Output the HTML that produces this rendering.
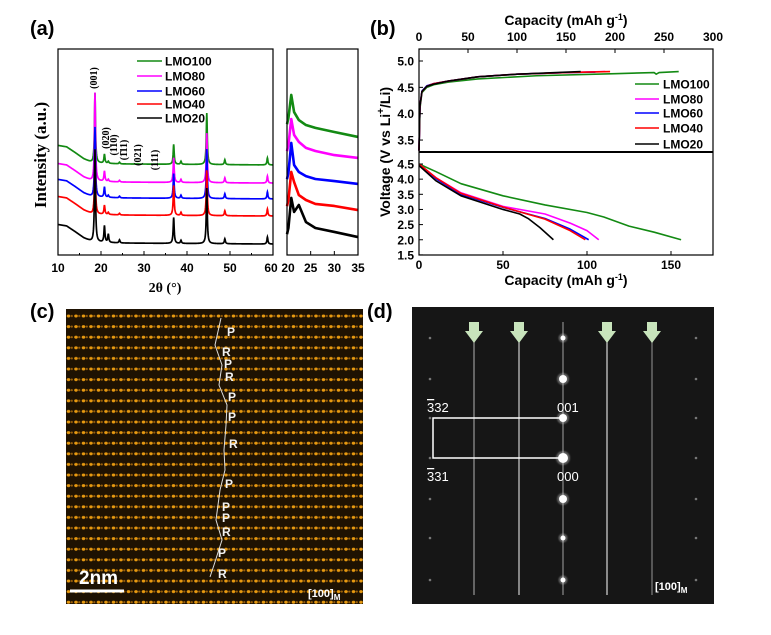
<!DOCTYPE html>
<html><head><meta charset="utf-8">
<style>
body{margin:0;background:#fff;width:771px;height:635px;overflow:hidden;font-family:"Liberation Sans",sans-serif}
svg{position:absolute;left:0;top:0}
</style></head>
<body>
<svg id="fig" width="771" height="635" viewBox="0 0 771 635" xmlns="http://www.w3.org/2000/svg">
<defs>
<pattern id="dots" x="66" y="312" width="7.5" height="10.6" patternUnits="userSpaceOnUse">
<rect width="7.5" height="10.6" fill="#1e1202"/>
<ellipse cx="2.5" cy="4" rx="1.8" ry="1.5" fill="#e89a10"/>
<ellipse cx="5.8" cy="4" rx="1.1" ry="1.1" fill="#9a600a"/>
</pattern>
<filter id="glow"><feGaussianBlur stdDeviation="0.8"/></filter>
</defs>
<g id="root"></g>
</svg>
<script>
// ---------- Panel (a) data ----------
const xrdSeries = ['LMO100','LMO80','LMO60','LMO40','LMO20'];
const xrdColors = ['#138a13','#ff00ff','#0000ff','#ff0000','#000000'];
const xrdOffsets = [44.2, 35.4, 27.7, 19.4, 5.8];
const peakPos = [18.6, 20.8, 21.7, 24.3, 36.9, 38.6, 44.6, 48.8, 58.7];
const peakH_LMO100 = [34, 4.4, 1, 0.8, 9.7, 1.5, 25, 2.4, 3.4];
const peakH_LMO80 = [43, 5, 1, 0.8, 12, 1.5, 24, 2.4, 3.4];
const peakH_LMO60 = [34, 5, 1, 0.8, 12, 1.5, 24, 2.4, 3.4];
const peakH_LMO40 = [29, 4.4, 1, 0.8, 14.5, 1.5, 22, 2.4, 3.4];
const peakH_LMO20 = [45, 8, 4, 1.5, 12.6, 1.5, 27, 2.4, 3.4];
const bgX = [10, 12, 14, 16, 18, 25, 60];
const bgY = [9, 8.3, 5.5, 2.5, 0.5, 0, -0.5];
const insetX = [20.3, 20.9, 21.5, 22.5, 24, 26, 30, 35];
const inset_LMO100 = [66.5, 77.7, 69.4, 65.5, 63.1, 61.7, 59.7, 57.3];
const inset_LMO80 = [53.4, 66, 58.3, 54.9, 52, 50.5, 48.5, 47.1];
const inset_LMO60 = [39.8, 54.4, 43.7, 40.3, 38.3, 36.9, 35.9, 34.5];
const inset_LMO40 = [26.7, 40.3, 35.4, 29.1, 26.7, 24.8, 23.8, 21.8];
const inset_LMO20 = [13.1, 27.7, 20.9, 24.3, 16, 13.1, 11.2, 8.7];
const xrdTicks = [10,20,30,40,50,60];
const insetTicks = [20,25,30,35];

// ---------- Panel (b) data ----------
const chgX_LMO100 = [0, 1, 3, 8, 15, 30, 60, 120, 200, 240, 242, 245, 265];
const chgV_LMO100 = [3.3, 4.1, 4.4, 4.5, 4.55, 4.6, 4.66, 4.72, 4.76, 4.78, 4.75, 4.78, 4.8];
const chgX_LMO80 = [0, 1, 3, 8, 15, 30, 60, 100, 150, 190];
const chgV_LMO80 = [3.3, 4.15, 4.42, 4.52, 4.57, 4.62, 4.7, 4.75, 4.78, 4.8];
const chgX_LMO60 = [0, 1, 3, 8, 15, 30, 60, 100, 150, 180];
const chgV_LMO60 = [3.3, 4.15, 4.43, 4.53, 4.57, 4.62, 4.7, 4.75, 4.78, 4.79];
const chgX_LMO40 = [0, 1, 3, 8, 15, 30, 60, 100, 150, 195];
const chgV_LMO40 = [3.3, 4.15, 4.42, 4.52, 4.57, 4.62, 4.7, 4.75, 4.78, 4.8];
const chgX_LMO20 = [0, 1, 3, 8, 15, 30, 60, 100, 140, 165];
const chgV_LMO20 = [3.3, 4.15, 4.42, 4.52, 4.56, 4.62, 4.7, 4.75, 4.78, 4.8];
const disX_LMO100 = [0, 10, 25, 50, 75, 100, 110, 125, 140, 156];
const disV_LMO100 = [4.5, 4.25, 3.85, 3.45, 3.15, 2.9, 2.75, 2.45, 2.25, 2.0];
const disX_LMO80 = [0, 10, 25, 50, 75, 90, 100, 107];
const disV_LMO80 = [4.5, 4.05, 3.55, 3.1, 2.85, 2.55, 2.3, 2.0];
const disX_LMO60 = [0, 10, 25, 50, 75, 90, 101];
const disV_LMO60 = [4.5, 4.02, 3.5, 3.07, 2.7, 2.35, 2.0];
const disX_LMO40 = [0, 10, 25, 50, 75, 90, 99];
const disV_LMO40 = [4.5, 4.05, 3.53, 3.08, 2.68, 2.3, 2.0];
const disX_LMO20 = [0, 10, 25, 50, 60, 65, 72, 80];
const disV_LMO20 = [4.45, 3.95, 3.45, 3.0, 2.85, 2.7, 2.4, 2.0];
const topTicks = [0,50,100,150,200,250,300];
const botTicks = [0,50,100,150];
const upTicks = [3.5,4.0,4.5,5.0];
const lowTicks = [1.5,2.0,2.5,3.0,3.5,4.0,4.5];

const NS='http://www.w3.org/2000/svg';
const root=document.getElementById('root');
function mk(tag,attrs,parent,txt){const e=document.createElementNS(NS,tag);for(const k in attrs)e.setAttribute(k,attrs[k]);if(txt!==undefined)e.textContent=txt;(parent||root).appendChild(e);return e;}
function interp(xs,ys,x){if(x<=xs[0])return ys[0];for(let i=1;i<xs.length;i++){if(x<=xs[i]){const t=(x-xs[i-1])/(xs[i]-xs[i-1]);return ys[i-1]+t*(ys[i]-ys[i-1]);}}return ys[ys.length-1];}

// panel labels
[['(a)',30,35],['(b)',370,35],['(c)',30,318],['(d)',367,318]].forEach(p=>{
  const t=mk('text',{x:p[1],y:p[2],'font-size':20,'font-weight':'bold','font-family':'Liberation Sans, sans-serif'},root,p[0]);
  
  
});

// ---------- Panel (a) ----------
const aX=v=>58+(v-10)*(273-58)/50;
const aY=v=>255-v*2.06;
const gA=mk('g',{});


const peakSets=[peakH_LMO100,peakH_LMO80,peakH_LMO60,peakH_LMO40,peakH_LMO20];
for(let s=0;s<5;s++){
  let d='';
  for(let x=10;x<=60.001;x+=0.05){
    let v=xrdOffsets[s]+interp(bgX,bgY,x);
    for(let k=0;k<peakPos.length;k++){const w=0.14;const dx=x-peakPos[k];v+=peakSets[s][k]*w*w/(dx*dx+w*w);}
    d+=(d?'L':'M')+aX(x).toFixed(2)+','+aY(v).toFixed(2);
  }
  const p=mk('path',{d:d,fill:'none',stroke:xrdColors[s],'stroke-width':1.7},gA);
  
  
}
mk('rect',{x:58,y:49,width:215,height:206,fill:'none',stroke:'#000','stroke-width':1.2},gA);
xrdTicks.forEach(t=>{
  mk('line',{x1:aX(t),x2:aX(t),y1:255,y2:251,stroke:'#000'},gA);
  const tx=mk('text',{x:aX(t)+(t===60?-2:0),y:272,'text-anchor':'middle','font-size':12,'font-weight':'bold'},gA,t);
  
  
});
for(let t=15;t<60;t+=10)mk('line',{x1:aX(t),x2:aX(t),y1:255,y2:253,stroke:'#000'},gA);
const xl=mk('text',{x:165,y:292,'text-anchor':'middle','font-size':14,'font-weight':'bold','font-family':'Liberation Serif, serif'},gA,'2θ (°)');


const yl=mk('text',{x:0,y:0,transform:'translate(46,155) rotate(-90)','text-anchor':'middle','font-size':17,'font-weight':'bold','font-family':'Liberation Serif, serif'},gA,'Intensity (a.u.)');


[['(001)',97,78],['(020)',109,138],['(110)',117,145],['(1̄11)',127,150],['(021)',141,155],['(111)',158,160]].forEach(h=>{
  const t=mk('text',{x:0,y:0,transform:`translate(${h[1]},${h[2]}) rotate(-90)`,'text-anchor':'middle','font-size':10,'font-weight':'bold','font-family':'Liberation Serif, serif'},gA,h[0]);
  
  
});
const legYa=[61,76,91,104,118];
for(let s=0;s<5;s++){
  const g=mk('g',{},gA);
  
  
  mk('line',{x1:137,x2:162,y1:legYa[s],y2:legYa[s],stroke:xrdColors[s],'stroke-width':1.5},g);
  mk('text',{x:165,y:legYa[s]+4.5,'font-size':12,'font-weight':'bold'},g,xrdSeries[s]);
}
const iX=v=>287+(v-20)*(358-287)/15;
const insetSets=[inset_LMO100,inset_LMO80,inset_LMO60,inset_LMO40,inset_LMO20];
const gI=mk('g',{});


for(let s=0;s<5;s++){
  let d='M'+iX(20).toFixed(2)+','+aY(insetSets[s][0]-3).toFixed(2);
  for(let k=0;k<insetX.length;k++)d+='L'+iX(insetX[k]).toFixed(2)+','+aY(insetSets[s][k]).toFixed(2);
  const p=mk('path',{d:d,fill:'none',stroke:xrdColors[s],'stroke-width':2.6,'stroke-linejoin':'round'},gI);
  
  
}
mk('rect',{x:287,y:49,width:71,height:206,fill:'none',stroke:'#000','stroke-width':1.2},gI);
insetTicks.forEach(t=>{
  mk('line',{x1:iX(t),x2:iX(t),y1:255,y2:251,stroke:'#000'},gI);
  mk('text',{x:iX(t)+(t===20?1:0),y:272,'text-anchor':'middle','font-size':12,'font-weight':'bold'},gI,t);
});

// ---------- Panel (b) ----------
const bTopX=v=>419+v*(713-419)/300;
const bBotX=v=>419+v*(713-419)/175;
const bUpY=v=>61+(5.0-v)*52.7;
const bLowY=v=>164+(4.5-v)*30.3;
const gB=mk('g',{});


const chg=[[chgX_LMO100,chgV_LMO100],[chgX_LMO80,chgV_LMO80],[chgX_LMO60,chgV_LMO60],[chgX_LMO40,chgV_LMO40],[chgX_LMO20,chgV_LMO20]];
const dis=[[disX_LMO100,disV_LMO100],[disX_LMO80,disV_LMO80],[disX_LMO60,disV_LMO60],[disX_LMO40,disV_LMO40],[disX_LMO20,disV_LMO20]];
for(let s=0;s<5;s++){
  let d='';chg[s][0].forEach((x,i)=>{d+=(i?'L':'M')+bTopX(x).toFixed(2)+','+bUpY(chg[s][1][i]).toFixed(2);});
  const p=mk('path',{d:d,fill:'none',stroke:xrdColors[s],'stroke-width':1.6,'stroke-linejoin':'round'},gB);
  
  
  let d2='';dis[s][0].forEach((x,i)=>{d2+=(i?'L':'M')+bBotX(x).toFixed(2)+','+bLowY(dis[s][1][i]).toFixed(2);});
  const p2=mk('path',{d:d2,fill:'none',stroke:xrdColors[s],'stroke-width':1.6,'stroke-linejoin':'round'},gB);
  
  
}
mk('rect',{x:419,y:49,width:294,height:206,fill:'none',stroke:'#000','stroke-width':1.2},gB);
mk('line',{x1:419,x2:713,y1:152,y2:152,stroke:'#000','stroke-width':2},gB);
topTicks.forEach(t=>{
  mk('line',{x1:bTopX(t),x2:bTopX(t),y1:49,y2:53,stroke:'#000'},gB);
  mk('text',{x:bTopX(t),y:41,'text-anchor':'middle','font-size':12,'font-weight':'bold'},gB,t);
});
botTicks.forEach(t=>{
  mk('line',{x1:bBotX(t),x2:bBotX(t),y1:255,y2:251,stroke:'#000'},gB);
  mk('text',{x:bBotX(t),y:269,'text-anchor':'middle','font-size':12,'font-weight':'bold'},gB,t);
});
upTicks.forEach(t=>{
  mk('line',{x1:419,x2:423,y1:bUpY(t),y2:bUpY(t),stroke:'#000'},gB);
  mk('text',{x:414,y:bUpY(t)+4.5,'text-anchor':'end','font-size':12,'font-weight':'bold'},gB,t.toFixed(1));
});
lowTicks.forEach(t=>{
  mk('line',{x1:419,x2:423,y1:bLowY(t),y2:bLowY(t),stroke:'#000'},gB);
  mk('text',{x:414,y:bLowY(t)+4.5,'text-anchor':'end','font-size':12,'font-weight':'bold'},gB,t.toFixed(1));
});
const tt=mk('text',{x:566,y:25,'text-anchor':'middle','font-size':14,'font-weight':'bold'},gB);


tt.innerHTML='Capacity (mAh g<tspan dy="-5" font-size="9">-1</tspan><tspan dy="5">)</tspan>';
const bt=mk('text',{x:566,y:285,'text-anchor':'middle','font-size':14,'font-weight':'bold'},gB);


bt.innerHTML='Capacity (mAh g<tspan dy="-5" font-size="9">-1</tspan><tspan dy="5">)</tspan>';
const vt=mk('text',{x:0,y:0,transform:'translate(390,152) rotate(-90)','text-anchor':'middle','font-size':14,'font-weight':'bold'},gB);


vt.innerHTML='Voltage  (V vs Li<tspan dy="-6" font-size="10">+</tspan><tspan dy="6">/Li)</tspan>';
const legYb=[84,99,113,128,144];
for(let s=0;s<5;s++){
  const g=mk('g',{},gB);
  
  
  mk('line',{x1:635,x2:659,y1:legYb[s],y2:legYb[s],stroke:xrdColors[s],'stroke-width':1.6},g);
  mk('text',{x:663,y:legYb[s]+4.5,'font-size':12,'font-weight':'bold'},g,xrdSeries[s]);
}

// ---------- Panel (c) ----------
const gC=mk('g',{});


mk('rect',{x:66,y:309,width:297,height:295,fill:'url(#dots)'},gC);
mk('polyline',{points:'221,318 215,345 222,365 219,385 227,405 226,425 224,450 225,470 220,490 216,520 222,540 214,565 210,577',fill:'none',stroke:'#ddd','stroke-width':1},gC);
[['P',227,336],['R',222,356],['P',224,368],['R',225,381],['P',228,401],['P',228,421],['R',229,448],['P',225,488],['P',222,511],['P',222,522],['R',222,536],['P',218,557],['R',218,578]].forEach(l=>{
  const t=mk('text',{x:l[1],y:l[2],'font-size':12,'font-weight':'bold',fill:'#f2f2f2'},gC,l[0]);
  
  
});
mk('line',{x1:70,x2:124,y1:591,y2:591,stroke:'#fff','stroke-width':3},gC);
const sb=mk('text',{x:79,y:584,'font-size':19,'font-weight':'bold',fill:'#fff'},gC,'2nm');


const zc=mk('text',{x:308,y:597,'font-size':11,'font-weight':'bold',fill:'#fff'},gC);


zc.innerHTML='[100]<tspan dy="3" font-size="8">M</tspan>';

// ---------- Panel (d) ----------
const gD=mk('g',{});


mk('rect',{x:412,y:307,width:302,height:297,fill:'#161616'},gD);
[[474,0.6],[519,0.85],[563,0.55],[607,0.9],[652,0.5]].forEach(s=>{
  mk('line',{x1:s[0],x2:s[0],y1:322,y2:595,stroke:'#bbb','stroke-opacity':s[1]*0.6,'stroke-width':4,filter:'url(#glow)'},gD);
  mk('line',{x1:s[0],x2:s[0],y1:322,y2:595,stroke:'#eee','stroke-opacity':s[1],'stroke-width':1.2},gD);
});
[338,379,418,458,499,538,580].forEach((y,i)=>{
  const r=(i===3)?5:(i===1||i===2||i===4)?4:2.5;
  mk('circle',{cx:563,cy:y,r:r+2,fill:'#fff','fill-opacity':0.3,filter:'url(#glow)'},gD);
  mk('circle',{cx:563,cy:y,r:r,fill:'#fff'},gD);
  mk('circle',{cx:430,cy:y,r:1.3,fill:'#777'},gD);
  mk('circle',{cx:696,cy:y,r:1.3,fill:'#777'},gD);
});
[474,519,607,652].forEach(x=>{
  const a=mk('polygon',{points:`${x-5},322 ${x+5},322 ${x+5},331 ${x+9},331 ${x},343 ${x-9},331 ${x-5},331`,fill:'#c8e4bc'},gD);
  
  
});
mk('polyline',{points:'563,418 433,418 433,458 563,458',fill:'none',stroke:'#fff','stroke-width':1.5},gD);
[['332',427,412],['331',427,481],['001',557,412],['000',557,481]].forEach((l,i)=>{
  const t=mk('text',{x:l[1],y:l[2],'font-size':13,fill:'#fff'},gD);
  
  
  if(i<2){t.innerHTML='<tspan text-decoration="overline">3</tspan>'+l[0].slice(1);}else{t.textContent=l[0];}
});
const zd=mk('text',{x:655,y:590,'font-size':11,'font-weight':'bold',fill:'#fff'},gD);


zd.innerHTML='[100]<tspan dy="3" font-size="8">M</tspan>';
</script>
</body></html>
